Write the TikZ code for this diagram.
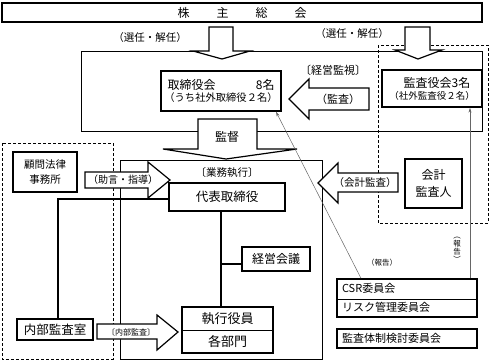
\documentclass[tikz,border=0pt]{standalone}
\usepackage{fontspec}
\setmainfont{Noto Sans CJK JP}
\usetikzlibrary{arrows.meta}
\tikzset{
  tbox/.style={draw, line width=1.4pt, fill=white, inner sep=0pt, align=center},
  region/.style={draw, line width=0.6pt},
  dbox/.style={draw, line width=0.8pt, dash pattern=on 3pt off 2pt},
  barrow/.style={draw, line width=1.2pt, fill=white, line join=miter},
  conn/.style={draw=black!60, line width=0.5pt, -{Stealth[length=5pt,width=3pt]}},
  tline/.style={draw, line width=1.4pt},
  lbl/.style={inner sep=0pt},
}
\begin{document}
\begin{tikzpicture}[x=1pt,y=-1pt]
\useasboundingbox (0,0) rectangle (490,360);
% regions
\draw[region] (81,51) rectangle (482,131);
\draw[region] (120,160) rectangle (322,359);
\draw[dbox] (378,45) rectangle (488,223);
\draw[dbox] (2,143) rectangle (113,359);
% top box
\node[tbox, minimum width=480pt, minimum height=19pt, font=\fontsize{12}{14}\selectfont] (gm) at (242,12.5)
  {株\hspace{27pt}主\hspace{27pt}総\hspace{27pt}会};
% block arrows
\draw[barrow] (209,27) -- (233,27) -- (233,51) -- (250,51) -- (222,59) -- (193,51) -- (209,51) -- cycle;
\draw[barrow] (405,27) -- (430,27) -- (430,50) -- (442,50) -- (418,59) -- (395,50) -- (405,50) -- cycle;
\draw[barrow] (198,119) -- (257,119) -- (257,149) -- (297,149) -- (226,159) -- (163,149) -- (198,149) -- cycle;
\draw[barrow] (369,88) -- (309,88) -- (309,79) -- (289,99) -- (309,119) -- (309,110) -- (369,110) -- cycle;
\draw[barrow] (398,173) -- (338,173) -- (338,163) -- (318,183) -- (338,203) -- (338,192) -- (398,192) -- cycle;
\draw[barrow] (85,172) -- (148,172) -- (148,162) -- (170,180) -- (148,198) -- (148,188) -- (85,188) -- cycle;
\draw[barrow] (97,324) -- (157,324) -- (157,315) -- (178,332) -- (157,350) -- (157,339) -- (97,339) -- cycle;
% labels
\node[lbl, font=\fontsize{10.5}{12}\selectfont] (l1) at (150,38) {（選任・解任）};
\node[lbl, font=\fontsize{10.5}{12}\selectfont] (l2) at (352,34) {（選任・解任）};
\node[lbl, font=\fontsize{11}{12}\selectfont] (l3) at (333,70) {〔経営監視〕};
\node[lbl, font=\fontsize{11}{12}\selectfont] (l4) at (338,99) {（監査）};
\node[lbl, font=\fontsize{12}{12}\selectfont] (l5) at (227,137) {監督};
\node[lbl, font=\fontsize{10.5}{12}\selectfont] (l6) at (227,173) {〔業務執行〕};
\node[lbl, font=\fontsize{10}{12}\selectfont] (l7) at (123,180) {（助言・指導）};
\node[lbl, font=\fontsize{10.5}{12}\selectfont] (l8) at (365,183) {（会計監査）};
\node[lbl, font=\fontsize{8}{10}\selectfont] (l9) at (131,332) {〔内部監査〕};
\node[lbl, font=\fontsize{7.5}{9}\selectfont] (l10) at (382,263) {（報告）};
\node[lbl, align=center, font=\fontsize{7.5}{6.5}\selectfont] (l11) at (457,250)
  {︵\\報\\告\\︶};
% boxes
\node[tbox, minimum width=120pt, minimum height=40pt] (board) at (221,91)
  {\fontsize{12}{17}\selectfont\makebox[107pt]{取締役会\hfill 8名}\\
   \fontsize{10.3}{17}\selectfont （うち社外取締役２名）};
\node[tbox, minimum width=100pt, minimum height=37pt] (kansa) at (432,88.5)
  {\fontsize{12}{14}\selectfont\hspace{10pt}監査役会3名\\
   \fontsize{9.5}{13}\selectfont （社外監査役２名）};
\node[tbox, minimum width=64pt, minimum height=40pt, font=\fontsize{10.5}{15}\selectfont] (law) at (45,172)
  {顧問法律\\事務所};
\node[tbox, minimum width=116pt, minimum height=28pt, font=\fontsize{12.5}{14}\selectfont] (rep) at (227,197)
  {代表取締役};
\node[tbox, minimum width=57pt, minimum height=49pt, font=\fontsize{12}{17}\selectfont] (ca) at (433.5,183.5)
  {会計\\監査人};
\node[tbox, minimum width=68pt, minimum height=24pt, font=\fontsize{12}{14}\selectfont] (mtg) at (276,259)
  {経営会議};
\node[tbox, minimum width=76pt, minimum height=21pt, font=\fontsize{12.5}{14}\selectfont] (iaud) at (55,329.5)
  {内部監査室};
\node[tbox, minimum width=91pt, minimum height=46pt, font=\fontsize{13}{23}\selectfont] (exec) at (227.5,330)
  {執行役員\\各部門};
\draw[line width=0.6pt] (exec.west) -- (exec.east);
\node[tbox, minimum width=140pt, minimum height=38pt, text width=130pt, align=left,
  font=\fontsize{11}{19}\selectfont] (csr) at (407,298)
  {CSR委員会\\リスク管理委員会};
\draw[line width=0.6pt] ([yshift=-1pt]csr.west) -- ([yshift=-1pt]csr.east);
\node[tbox, minimum width=140pt, minimum height=19pt, text width=130pt, align=left,
  font=\fontsize{11}{13}\selectfont] (sys) at (407,338.5)
  {監査体制検討委員会};
% connectors
\draw[tline] ([xshift=-6pt]rep.south) -- ([xshift=-6.5pt]exec.north);
\draw[tline] ([xshift=-6pt]rep.south |- 0,264) -- ([yshift=-5pt]mtg.west);
\draw[tline] ([yshift=-2pt]rep.west) -| ([xshift=3pt]iaud.north);
\draw[conn] ([xshift=-46pt]csr.north) -- ([xshift=55pt]board.south);
\draw[conn] ([xshift=63pt]csr.north) -- ([xshift=38pt]kansa.south);
\end{tikzpicture}
\end{document}
